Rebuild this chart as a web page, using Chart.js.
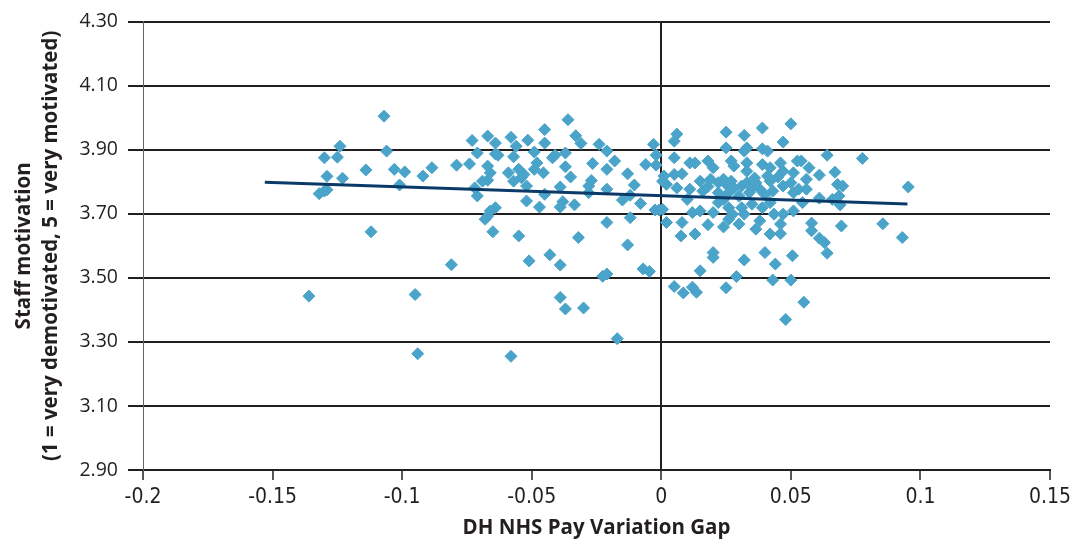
<!DOCTYPE html>
<html>
<head>
<meta charset="utf-8">
<script src="https://cdn.jsdelivr.net/npm/chart.js@4.4.1/dist/chart.umd.min.js"></script>
<style>
  html, body { margin: 0; padding: 0; background: #fff; }
  #wrap { width: 1080px; height: 545px; }
</style>
</head>
<body>
<div id="wrap"><canvas id="payChart" width="1080" height="545"></canvas></div>
<script>
/* ── data ── */
const payGap = [
  -0.136, -0.107, -0.124, -0.130, -0.125, -0.106, -0.073, -0.071, -0.129, -0.123,
  -0.114, -0.103, -0.099, -0.092, -0.0885, -0.079, -0.074, -0.129, -0.132, -0.130,
  -0.101, -0.072, -0.071, -0.112, -0.081, -0.095, -0.094,
  -0.036, -0.067, -0.058, -0.0515, -0.045, -0.045, -0.033, -0.031, -0.024, -0.021,
  -0.003, -0.002, -0.064, -0.056, -0.064, -0.063, -0.057, -0.049, -0.042, -0.041,
  -0.037, -0.018, -0.0265, -0.067, -0.066, -0.067, -0.059, -0.055, -0.053, -0.057,
  -0.054, -0.048, -0.049, -0.0455, -0.037, -0.035, -0.027, -0.021, -0.013, -0.006,
  -0.002, -0.0104, -0.028, -0.039, -0.052, -0.069, -0.028, -0.021, -0.045, -0.015,
  -0.012, -0.008, -0.052, -0.047, -0.039, -0.038, -0.0335, -0.064, -0.066, -0.067,
  -0.068, -0.0024, -0.0008, -0.021, -0.012, -0.065, -0.055, -0.032, -0.013, -0.051,
  -0.043, -0.039, -0.0226, -0.021, -0.007, -0.0046, -0.039, -0.037, -0.030, -0.017,
  -0.058,
  0.006, 0.005, 0.025, 0.032, 0.039, 0.050, 0.047, 0.025, 0.033, 0.032,
  0.039, 0.041, 0.005, 0.011, 0.013, 0.018, 0.020, 0.027, 0.028, 0.033,
  0.033, 0.039, 0.042, 0.041, 0.046, 0.047, 0.0525, 0.051, 0.001, 0.0005,
  0.005, 0.008, 0.002, 0.006, 0.011, 0.015, 0.016, 0.019, 0.022, 0.024,
  0.025, 0.027, 0.028, 0.022, 0.026, 0.031, 0.033, 0.035, 0.0365, 0.038,
  0.042, 0.043, 0.047, 0.050, 0.051, 0.053, 0.034, 0.012, 0.015, 0.020,
  0.022, 0.026, 0.0275, 0.031, 0.032, 0.035, 0.039, 0.042, 0.0435, 0.047,
  0.051, 0.0005, 0.002, 0.008, 0.0076, 0.013, 0.018, 0.024, 0.026, 0.030,
  0.0365, 0.038, 0.042, 0.046, 0.046, 0.020, 0.020, 0.032, 0.040, 0.044,
  0.0506, 0.015, 0.029, 0.043, 0.050, 0.005, 0.0085, 0.012, 0.0136, 0.025,
  0.048, 0.055,
  0.064, 0.0776, 0.054, 0.057, 0.061, 0.067, 0.056, 0.056, 0.068, 0.070,
  0.0953, 0.061, 0.066, 0.0686, 0.069, 0.0545, 0.058, 0.058, 0.0695, 0.0855,
  0.093, 0.061, 0.063, 0.064,
  0.018, 0.030, 0.040, 0.045, 0.010, 0.036, 0.024
];
const staffMotivation = [
  3.443, 4.005, 3.911, 3.875, 3.877, 3.896, 3.929, 3.890, 3.817, 3.811,
  3.837, 3.839, 3.831, 3.818, 3.844, 3.852, 3.856, 3.775, 3.763, 3.771,
  3.790, 3.781, 3.756, 3.644, 3.541, 3.448, 3.263,
  3.994, 3.943, 3.939, 3.930, 3.963, 3.921, 3.944, 3.920, 3.917, 3.896,
  3.917, 3.883, 3.921, 3.911, 3.887, 3.883, 3.878, 3.893, 3.875, 3.883,
  3.890, 3.865, 3.857, 3.849, 3.828, 3.805, 3.828, 3.839, 3.823, 3.802,
  3.813, 3.859, 3.839, 3.828, 3.847, 3.815, 3.804, 3.839, 3.825, 3.854,
  3.852, 3.790, 3.787, 3.784, 3.787, 3.802, 3.766, 3.777, 3.761, 3.743,
  3.758, 3.732, 3.740, 3.721, 3.721, 3.738, 3.728, 3.719, 3.709, 3.693,
  3.683, 3.712, 3.712, 3.673, 3.688, 3.644, 3.631, 3.626, 3.603, 3.553,
  3.572, 3.540, 3.505, 3.512, 3.528, 3.520, 3.439, 3.403, 3.406, 3.310,
  3.255,
  3.949, 3.927, 3.955, 3.945, 3.968, 3.981, 3.924, 3.906, 3.906, 3.896,
  3.903, 3.896, 3.875, 3.859, 3.859, 3.865, 3.844, 3.865, 3.849, 3.859,
  3.833, 3.854, 3.844, 3.818, 3.859, 3.833, 3.865, 3.828, 3.818, 3.802,
  3.823, 3.825, 3.792, 3.781, 3.777, 3.802, 3.771, 3.808, 3.797, 3.808,
  3.792, 3.802, 3.781, 3.766, 3.766, 3.787, 3.797, 3.781, 3.797, 3.777,
  3.802, 3.771, 3.787, 3.797, 3.766, 3.777, 3.766, 3.704, 3.709, 3.704,
  3.735, 3.719, 3.699, 3.719, 3.699, 3.730, 3.719, 3.735, 3.699, 3.699,
  3.709, 3.714, 3.673, 3.673, 3.631, 3.637, 3.666, 3.659, 3.683, 3.668,
  3.652, 3.678, 3.637, 3.638, 3.668, 3.579, 3.564, 3.556, 3.579, 3.543,
  3.569, 3.522, 3.504, 3.493, 3.493, 3.473, 3.453, 3.471, 3.455, 3.469,
  3.370, 3.424,
  3.883, 3.873, 3.865, 3.844, 3.821, 3.830, 3.808, 3.777, 3.792, 3.787,
  3.784, 3.749, 3.745, 3.756, 3.728, 3.735, 3.671, 3.647, 3.662, 3.669,
  3.626, 3.624, 3.610, 3.577,
  3.785, 3.755, 3.760, 3.815, 3.745, 3.812, 3.745
];

// fitted trend line, end points
const trendGap = [-0.153, 0.095];
const trendMotivation = [3.799, 3.731];

const xTickLabels = ['-0.2', '-0.15', '-0.1', '-0.05', '0', '0.05', '0.1', '0.15'];
const yTickLabels = ['2.90', '3.10', '3.30', '3.50', '3.70', '3.90', '4.10', '4.30'];

/* ── chart ── */
const INK = '#231f20';
const scatterPts = payGap.map(function (x, i) { return { x: x, y: staffMotivation[i] }; });
const trendPts = trendGap.map(function (x, i) { return { x: x, y: trendMotivation[i] }; });

new Chart(document.getElementById('payChart'), {
  type: 'scatter',
  data: {
    datasets: [
      {
        type: 'line', label: 'Trend', data: trendPts, order: 0,
        borderColor: '#0b3a68', borderWidth: 3, pointRadius: 0, fill: false, tension: 0
      },
      {
        label: 'Trusts', data: scatterPts, order: 1,
        pointStyle: 'rectRot', pointRadius: 6,
        backgroundColor: '#4aa3c9', borderColor: '#4aa3c9', borderWidth: 1
      }
    ]
  },
  options: {
    responsive: false, animation: false,
    layout: { padding: { top: 20, right: 30, left: 0, bottom: 0 } },
    plugins: { legend: { display: false }, tooltip: { enabled: false } },
    scales: {
      x: {
        type: 'linear', min: -0.2, max: 0.15,
        afterFit: function (s) { s.height = 75; },
        ticks: {
          stepSize: 0.05, color: INK, padding: 5,
          font: { family: "'Liberation Sans Narrow', 'DejaVu Sans Condensed', sans-serif", size: 21 },
          callback: function (v, i) { return xTickLabels[i]; }
        },
        grid: {
          color: function (c) { return c.tick && Math.abs(c.tick.value) < 1e-9 ? INK : 'rgba(0,0,0,0)'; },
          lineWidth: 2, tickColor: INK, tickWidth: 1.5, tickLength: 10
        },
        border: { display: true, color: INK, width: 2 },
        title: {
          display: true, text: 'DH NHS Pay Variation Gap', color: INK,
          font: { family: "'Open Sans', sans-serif", size: 20.5, weight: 'bold' },
          padding: { top: 5, bottom: 5 }
        }
      },
      y: {
        min: 2.9, max: 4.3,
        afterFit: function (s) { s.width = 143; },
        ticks: {
          stepSize: 0.2, color: INK, padding: 10,
          font: { family: "'Open Sans', sans-serif", size: 19.5 },
          callback: function (v, i) { return yTickLabels[i]; }
        },
        grid: { color: INK, lineWidth: 2, tickLength: 15 },
        border: { display: true, color: '#666', width: 1 },
        title: {
          display: true, color: INK,
          text: ['Staff motivation', '(1 = very demotivated, 5 = very motivated)'],
          font: { family: "'Open Sans', sans-serif", size: 20.5, weight: 'bold', lineHeight: 1.3 },
          padding: { top: 11, bottom: 0 }
        }
      }
    }
  }
});
</script>
</body>
</html>
